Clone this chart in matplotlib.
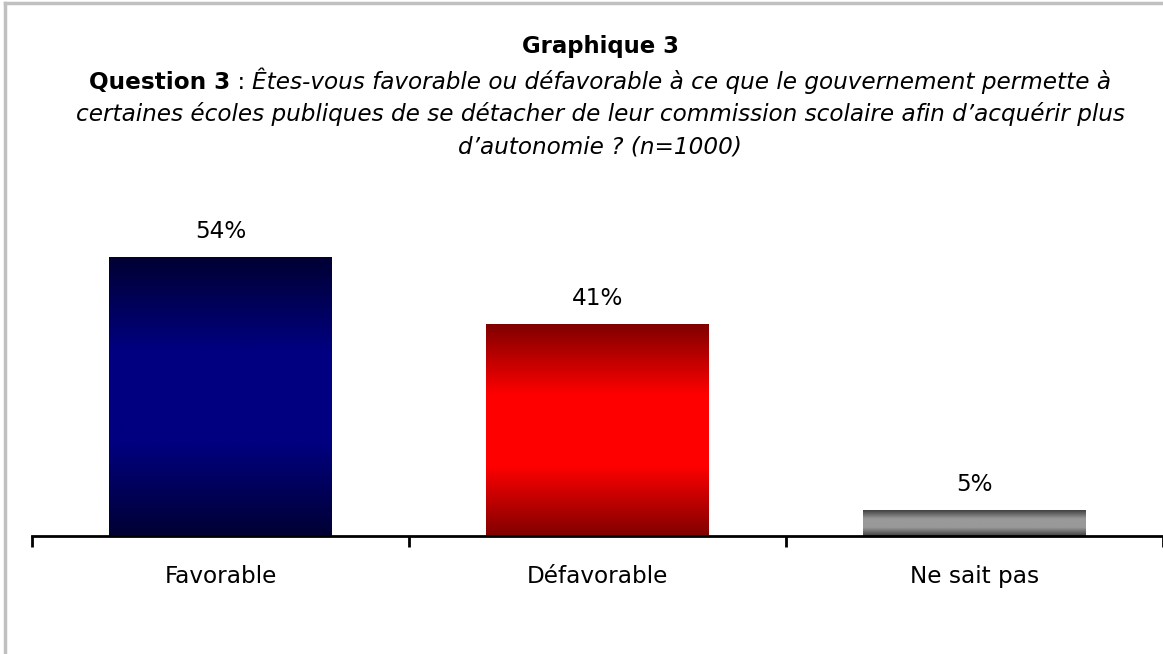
import numpy as np
import matplotlib.pyplot as plt
from matplotlib.colors import LinearSegmentedColormap
from matplotlib.lines import Line2D

categories = ["Favorable", "Défavorable", "Ne sait pas"]
values = [54, 41, 5]
value_labels = ["54%", "41%", "5%"]
edge_colors = ["#000033", "#800000", "#404040"]
mid_colors = ["#000080", "#ff0000", "#999999"]

title = "Graphique 3"
q_lead = "Question 3"
q_line1 = "Êtes-vous favorable ou défavorable à ce que le gouvernement permette à"
q_line2 = "certaines écoles publiques de se détacher de leur commission scolaire afin d’acquérir plus"
q_line3 = "d’autonomie ? (n=1000)"

W, H = 1163, 654
FS = 16.7
plt.rcParams['font.family'] = ['DejaVu Sans']
fig = plt.figure(figsize=(W / 100, H / 100), dpi=100)

def fy(y):
    return 1 - y / H

# gray frame lines (left and top)
fig.add_artist(Line2D([5 / W, 5 / W], [0, fy(3)], color="#c0c0c0", lw=2.5))
fig.add_artist(Line2D([5 / W, 1], [fy(3), fy(3)], color="#c0c0c0", lw=2.5))

cx = 600 / W
fig.text(cx, fy(53), title, ha="center", va="baseline", fontsize=16.4, fontweight="bold")

# first question line: bold lead + " : " + italic text, centred as a whole
fig.canvas.draw()
r = fig.canvas.get_renderer()
parts = [(q_lead, dict(fontweight="bold")), (" : ", {}), (q_line1, dict(style="italic"))]
txts = [fig.text(0, fy(89), s, ha="left", va="baseline", fontsize=FS, **kw) for s, kw in parts]
widths = [t.get_window_extent(r).width for t in txts]
x = cx * W - sum(widths) / 2
for t, w in zip(txts, widths):
    t.set_x(x / W)
    x += w
fig.text(cx, fy(121), q_line2, ha="center", va="baseline", fontsize=FS, style="italic")
fig.text(cx, fy(154), q_line3, ha="center", va="baseline", fontsize=FS, style="italic")

# axes: baseline at y=536 px, 54% top at y=257 px
px_per_pct = (536 - 257) / 54
ax_top = 200
ax = fig.add_axes([32 / W, (H - 536) / H, 1 - 32 / W, (536 - ax_top) / H])
ax.set_xlim(-0.5, 2.5)
ax.set_ylim(0, (536 - ax_top) / px_per_pct)

xs = np.arange(len(categories))
bars = ax.bar(xs, values, width=0.59, color="none", edgecolor="none", zorder=2)
for b, c0, c1 in zip(bars, edge_colors, mid_colors):
    cmap = LinearSegmentedColormap.from_list("g", [c0, c1, c1, c0])
    grad = np.linspace(0, 1, 256).reshape(-1, 1)
    x0, y0 = b.get_x(), b.get_y()
    ax.imshow(grad, cmap=cmap, aspect="auto", zorder=1, interpolation="bilinear",
              extent=[x0, x0 + b.get_width(), y0, y0 + b.get_height()])

for xi, v, lab in zip(xs, values, value_labels):
    ax.annotate(lab, (xi, v), xytext=(0, 19), textcoords="offset pixels",
                ha="center", va="baseline", fontsize=FS)

for s in ["top", "right", "left"]:
    ax.spines[s].set_visible(False)
ax.spines["bottom"].set_linewidth(2)
ax.set_yticks([])
ax.set_xticks([-0.5, 0.5, 1.5, 2.5])
ax.set_xticklabels([])
ax.tick_params(axis="x", length=8, width=2, direction="out")

# category labels, baseline at y=583 px
for xi, cat in zip(xs, categories):
    ax.annotate(cat, (xi, 0), xytext=(0, -(583 - 536)), textcoords="offset pixels",
                ha="center", va="baseline", fontsize=FS, annotation_clip=False)

fig.savefig("out.png", dpi=100)
